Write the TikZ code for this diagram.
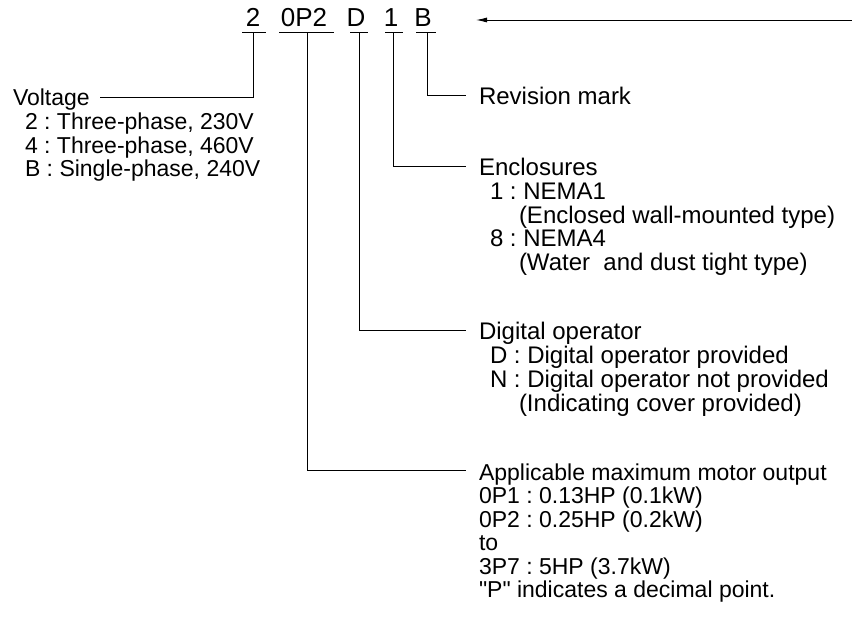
\documentclass[tikz,border=0pt]{standalone}
\usepackage{fontspec}
\setmainfont{Liberation Sans}
\usetikzlibrary{arrows.meta}
\frenchspacing
\begin{document}
\begin{tikzpicture}[x=1pt,y=-1pt,
  every node/.style={inner sep=0pt, outer sep=0pt},
  codetxt/.style={font=\fontsize{26}{26}\selectfont, anchor=base},
  body/.style={font=\fontsize{24}{24}\selectfont, anchor=base west},
  lbody/.style={font=\fontsize{23}{23}\selectfont, anchor=base west},
  head/.style={body, text height=20pt, text depth=0pt, inner xsep=13pt},
  lhead/.style={lbody, text height=20pt, text depth=0pt, inner xsep=13pt},
  vhead/.style={lbody, text height=18pt, text depth=0pt, inner xsep=10pt},
  conn/.style={line width=0.9pt, black},
  uline/.style={line width=1pt, black}]
\useasboundingbox (0,0) rectangle (852,644);

% code characters
\node[codetxt] (c2) at (253,27) {2};
\node[codetxt] (c0p2) at (304,27) {0P2};
\node[codetxt] (cD) at (356,27) {D};
\node[codetxt] (c1) at (391,27) {1};
\node[codetxt] (cB) at (423,27) {B};

% underline coordinates
\coordinate (u2a) at (242,33);  \coordinate (u2b) at (266,33);  \coordinate (u2m) at (253,33);
\coordinate (u0a) at (279,33);  \coordinate (u0b) at (334,33);  \coordinate (u0m) at (307,33);
\coordinate (uDa) at (350,33);  \coordinate (uDb) at (368,33);  \coordinate (uDm) at (359,33);
\coordinate (u1a) at (385,33);  \coordinate (u1b) at (403,33);  \coordinate (u1m) at (393,33);
\coordinate (uBa) at (416,33);  \coordinate (uBb) at (436,33);  \coordinate (uBm) at (427,33);
\draw[uline] (u2a) -- (u2b);
\draw[uline] (u0a) -- (u0b);
\draw[uline] (uDa) -- (uDb);
\draw[uline] (u1a) -- (u1b);
\draw[uline] (uBa) -- (uBb);

% incoming arrow
\coordinate (arrS) at (852,20);
\coordinate (arrE) at (476,20);
\draw[conn, -{Latex[length=11pt,width=5pt]}] (arrS) -- (arrE);

% Voltage block
\node[vhead] (volt) at (3,106) {Voltage};
\node[lbody] (v2) at (25,130) {2 : Three-phase, 230V};
\node[lbody] (v4) at (25,153.5) {4 : Three-phase, 460V};
\node[lbody] (vB) at (25,177) {B : Single-phase, 240V};
\draw[conn] (u2m) |- (volt.east);

% Revision mark
\node[head] (rev) at (466,105) {Revision mark};
\draw[conn] (uBm) |- (rev.west);

% Enclosures
\node[head] (encl) at (466,176) {Enclosures};
\node[body] (e1) at (490,200) {1 : NEMA1};
\node[body] (e1b) at (519,223.5) {(Enclosed wall-mounted type)};
\node[body] (e8) at (490,247) {8 : NEMA4};
\node[body] (e8b) at (519,270.5) {(Water\ \ and dust tight type)};
\draw[conn] (u1m) |- (encl.west);

% Digital operator
\node[head] (dig) at (466,340) {Digital operator};
\node[body] (dD) at (490,364) {D : Digital operator provided};
\node[body] (dN) at (490,387.5) {N : Digital operator not provided};
\node[body] (dNb) at (519,411) {(Indicating cover provided)};
\draw[conn] (uDm) |- (dig.west);

% Applicable maximum motor output
\node[lhead] (app) at (466,480) {Applicable maximum motor output};
\node[lbody] (a1) at (479,503.5) {0P1 : 0.13HP (0.1kW)};
\node[lbody] (a2) at (479,527) {0P2 : 0.25HP (0.2kW)};
\node[lbody] (a3) at (479,550.5) {to};
\node[lbody] (a4) at (479,574) {3P7 : 5HP (3.7kW)};
\node[lbody] (a5) at (479,597.5) {\textquotedbl P\textquotedbl\ indicates a decimal point.};
\draw[conn] (u0m) |- (app.west);
\end{tikzpicture}
\end{document}
